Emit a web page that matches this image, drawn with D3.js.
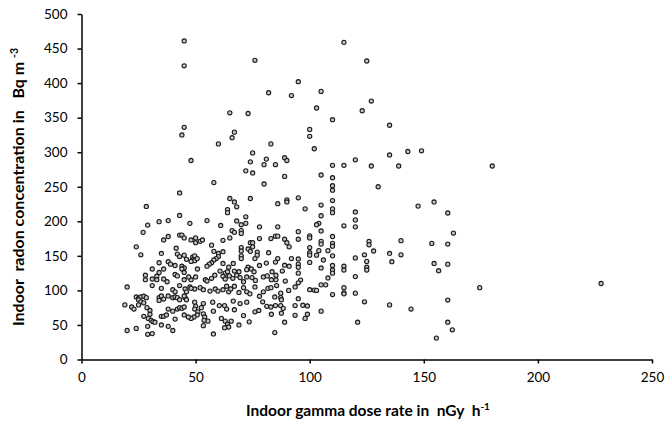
<!DOCTYPE html>
<html><head><meta charset="utf-8">
<script src="https://cdn.jsdelivr.net/npm/d3@7"></script>
<style>body{margin:0;background:#fff}svg{display:block}</style>
</head><body>
<svg id="c" width="665" height="423"></svg>
<script>
const points = [
[45,461],[76,433],[45,425],[95,402],[82,386],[92,382],[65,357],[73,356],[45,336],[44,325],[67,329],[66,321],[60,312],[83,312],[75,299],[48,288],[74,286],[81,290],[80,282],[85,282],[89,292],[90,288],[72,273],[75,270],[89,265],[58,256],[80,254],
[115,459],[125,432],[105,388],[103,364],[127,374],[123,360],[110,347],[135,339],[100,333],[100,323],[102,305],[135,296],[143,301],[149,302],[120,289],[110,281],[115,281],[127,280],[139,280],[180,280],[105,267],[110,263],
[147.5,222],[154.5,228],[160.5,212],[163,183],[153.5,168],[160.5,167],[154.5,139],[160.5,138],[156.5,128.5],[174.5,104],[227.7,110],[160.5,86],[144.4,73],[160.5,54],[162.5,43],[155.5,31],
[110,251.5],[110,245],[130,250],[95,234],[98,218],[105,223.5],[110,230],[110,218],[110,212.5],[120,213.5],[120,202],[120,192],[105,208],[104,197],[103,195],[115,193.5],[105,186],[95,185],[95,174],[100,179],[100,176],[110,178],[105,171],[105,167],[110,168],[110,164],[126,171],[126,166],[140,172],[100,162],[100,154.5],[100,151],[104,157.5],[103,151],[108,157.5],[110,150],[128,157],[124,151.5],[135,153.5],[140,151.5],[106,144],[100,140.5],[120,147],[125,142],[136,141.5],[95,138],[105,132.5],[110,136],[110,129.5],[110,125],[115,135],[115,129.5],[125,133.5],[125,129.5],[95,125],[108,118],[120,120],[96,115],[95,111],[93.6,105],[105,108],[107,108],[100,101],[102,100.5],[103,100],[115,104],[115,96.5],[115,95],[120,96],[110,94],[95,88],[124,83.5],[135,79],[93.6,78],[97,78.5],[99,77.5],[105,70],[99,65.5],[93.6,64],[98,59.5],[121,54],
[65,233],[67,228],[68,221],[74,233],[86,225.5],[90,231],[90,228],[64,217],[64,212.5],[72,206.5],[55,201],[68,200.5],[72,197],[70,195],[61,194],[86,192],[78,192],[66,186.5],[67,184],[70,186.5],[70,182.5],[47.5,197],[65,176],[78,175],[83,175],[85,178.5],[86,178.5],[89,174],[48,173],[50,176],[50,169],[52,171],[53,173],[62,172.5],[57,165.5],[74,169],[75,169],[73,160],[74,156.5],[75,163],[70,162],[70,157],[77,155.5],[77,151],[58,156.5],[62,156],[82,154.5],[90,169],[91,163],[92,146],[95,145.5],[86,146],[85,141],[81,139.5],[76,146],[70,150],[70,146],[66.5,139],[48.7,148],[49.6,150],[48.7,144],[49.6,143],[50.7,146],[48,142],[60,153.5],[60,149],[59,146],[58,144],[57,140],[56,138],[55,135],[62,139],[64.5,133.5],[73,133.5],[78,136],[89,136.5],[91,135],[95,133.5],
[50.8,131],[60.7,128],[63,125],[64,127],[67,128],[69,127],[72.4,130],[74.4,131],[75.6,127],[83.5,127],[88,128],[48,115.5],[50,119.5],[54.3,115.5],[55,113.5],[57,117.5],[58.4,122],[62,120.5],[63,116.5],[64.8,121],[66.3,117.5],[68,122],[69.5,118.5],[71,112.5],[72.4,119.5],[74.7,118.5],[76.2,114.5],[79.7,119.5],[81.4,121],[83.2,115.5],[85.2,122],[85.2,115.5],[89.3,113.5],[47.5,105],[49.6,102],[52,104],[53.4,101],[56.3,99],[58.6,102],[59.8,99],[62,101],[63.6,106],[64.5,98],[65.4,102],[67,106],[69,97],[71,104],[72.4,98],[73.8,95],[76,105],[78,91.5],[79.7,98],[81.7,103],[83,104],[85.5,107],[87.3,96],[87.3,89.5],[87.6,86.5],[90.8,100],[49.6,83],[50,77],[49.6,73],[51,69],[50.7,64.5],[52.5,75],[53.4,81],[53.4,66],[54,61.5],[55.4,55.5],[53.4,49],[57.8,70],[57.5,83],[60.4,78],[62.7,78],[63.6,73],[61.3,59.5],[63,55.5],[64,51],[64.5,47],[62.7,46],[65.6,55.5],[67,72],[66.5,84.5],[69.5,81],[71,63.5],[69,50],[72.4,83],[73.5,54.5],[76,69],[77.7,71],[79.4,83.5],[81.2,77],[83.2,65.5],[83,76],[85,78],[84.7,90.5],[87.3,78],[87.6,67],[88.4,74],[89,54],[84.7,39],[57.8,37],[49.3,61.5],[48,59.5],[53.7,56.7],
[43,241],[28.4,221.5],[43,208.5],[29,194.5],[34,199.5],[38,201],[27,184],[38,178],[36,173],[43,180],[44,180],[45,176],[24,163],[41.5,161],[26,151.5],[35,153.5],[42,152.5],[43,149],[45,151],[46,145],[34,140],[38,141.5],[39,138],[41,136],[44,135],[45,132.5],[31,131],[36,131],
[34,126],[28,122],[33,120.5],[31,116.5],[33,115.5],[28,115.5],[36,116.5],[37.5,112.5],[41,123],[42,121],[44,131],[45,126],[45,115.5],[47,119.5],[20,105],[31,107],[35,103],[40,101],[41,98],[43,107],[45.4,102],[46,98],[48,103],[24,90.5],[25,88.5],[26,90.5],[27.3,91.5],[28.4,89.5],[25,86.5],[26,83.5],[34,89.5],[35,92],[36,87.5],[38,92],[40,89.5],[41,90.5],[42,89.5],[43,86.5],[45.4,89.5],[46,86.5],[45,92],[34,85.5],[19,79],[22,76],[23,73],[25,79],[27.3,82],[28.7,75],[30,71],[30,65.5],[38,73],[40,70],[42,73],[43,75],[44,74],[45,76],[27.3,62.5],[29.3,59.5],[30.5,56.7],[31.3,54.7],[32.2,54],[35,62.5],[36,62.5],[37.2,64.5],[41,58.5],[45,64.5],[46.8,61.5],[29,48],[35,50],[38,48],[20,42],[24,45],[29,36.5],[31,37.5],[40,42]
];
const gammaDose = points.map(p => p[0]);
const radonConc = points.map(p => p[1]);
const xTicks = [0, 50, 100, 150, 200, 250];
const yTicks = [0, 50, 100, 150, 200, 250, 300, 350, 400, 450, 500];

const svg = d3.select("#c");
svg.append("rect").attr("width",665).attr("height",423).attr("fill","#fff");
const x = d3.scaleLinear().domain([0,250]).range([81.5,652]);
const y = d3.scaleLinear().domain([0,500]).range([359.5,14]);
const font = "Lato, 'Open Sans', sans-serif";

const gx = svg.append("g").attr("transform","translate(0,359.5)")
  .call(d3.axisBottom(x).tickValues(xTicks).tickSize(4).tickSizeOuter(0).tickPadding(9));
const gy = svg.append("g").attr("transform","translate(81.5,0)")
  .call(d3.axisLeft(y).tickValues(yTicks).tickSize(4).tickSizeOuter(0).tickPadding(10));
[gx,gy].forEach(g=>{
  g.selectAll("path,line").attr("stroke","#000").attr("stroke-width",1.5);
  g.selectAll("text").attr("font-family",font).attr("font-size",13.5).attr("fill","#000");
});

svg.append("g").selectAll("circle").data(gammaDose).join("circle")
  .attr("cx",(d,i)=>x(d)).attr("cy",(d,i)=>y(radonConc[i])).attr("r",2.1)
  .attr("fill","#c8c8c8").attr("stroke","#1a1a1a").attr("stroke-width",1.1);

const xt = svg.append("text").attr("x",368).attr("y",416).attr("text-anchor","middle")
  .attr("font-family",font).attr("font-weight","bold").attr("font-size",15.5).attr("fill","#000");
xt.append("tspan").text("Indoor gamma dose rate in\u00a0 nGy\u00a0 h");
xt.append("tspan").attr("dy",-6).attr("font-size",10).text("-1");

const yt = svg.append("text").attr("transform","translate(24,187) rotate(-90)").attr("text-anchor","middle")
  .attr("font-family",font).attr("font-weight","bold").attr("font-size",16).attr("fill","#000");
yt.append("tspan").text("Indoor\u00a0 radon concentration in\u00a0\u00a0 Bq m ");
yt.append("tspan").attr("dy",-6).attr("font-size",10.5).text("-3");
</script>
</body></html>
